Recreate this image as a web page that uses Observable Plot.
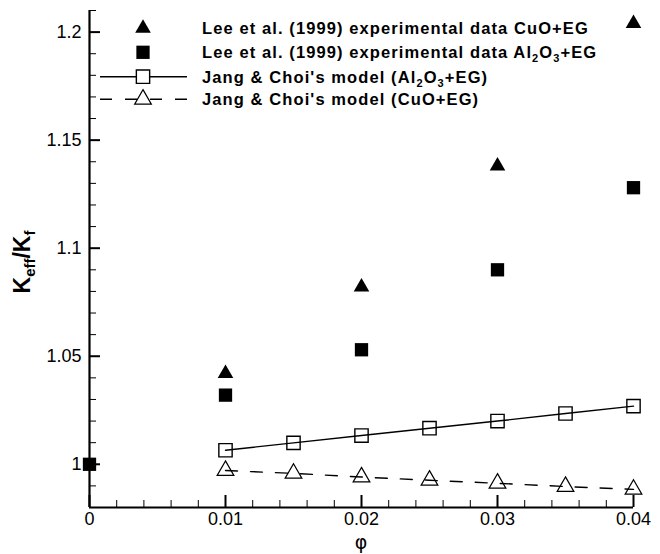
<!DOCTYPE html>
<html><head><meta charset="utf-8">
<script src="https://cdn.jsdelivr.net/npm/d3@7"></script>
<script src="https://cdn.jsdelivr.net/npm/@observablehq/plot@0.6"></script>
<style>body{margin:0;background:#fff}#chart{width:660px;height:554px}</style>
</head><body><div id="chart"></div>
<script>
// ---- data ----
const phiOrigin = [0];
const originValue = [1.0];
const phiLee = [0.01, 0.02, 0.03, 0.04];
const leeCuO = [1.042, 1.082, 1.138, 1.204];
const leeAl2O3 = [1.032, 1.053, 1.090, 1.128];
const phiModel = [0.01, 0.015, 0.02, 0.025, 0.03, 0.035, 0.04];
const jangAl2O3 = [1.0065, 1.0099, 1.0133, 1.0167, 1.0200, 1.0235, 1.0269];
const jangCuO = [0.9971, 0.9958, 0.9941, 0.9926, 0.9912, 0.9897, 0.9884];
const xTicks = [0, 0.01, 0.02, 0.03, 0.04];
const xTickLabels = ["0", "0.01", "0.02", "0.03", "0.04"];
const yTicks = [1, 1.05, 1.1, 1.15, 1.2];
const yTickLabels = ["1", "1.05", "1.1", "1.15", "1.2"];
const xDomain = [0, 0.04];
const yDomain = [0.98, 1.21];
const legendLabels = [
  "Lee et al. (1999) experimental data CuO+EG",
  "Lee et al. (1999) experimental data Al2O3+EG",
  "Jang & Choi's model (Al2O3+EG)",
  "Jang & Choi's model (CuO+EG)"
];

// tables built from the arrays
const lee = phiLee.map((p, i) => ({phi: p, cuo: leeCuO[i], al: leeAl2O3[i]}));
const origin = phiOrigin.map((p, i) => ({phi: p, v: originValue[i]}));
const model = phiModel.map((p, i) => ({phi: p, al: jangAl2O3[i], cuo: jangCuO[i]}));
const xMinor = d3.range(0, 41, 2).map(k => k / 1000).filter(v => !xTicks.some(t => Math.abs(t - v) < 1e-9));
const yMinor = d3.range(98, 122).map(k => k / 100).filter(v => !yTicks.some(t => Math.abs(t - v) < 1e-9));

const W = 660, H = 554, ML = 89, MR = 27, MT = 10, MB = 47;
const FW = W - ML - MR, FH = H - MT - MB;
const rTri = 5.8, rSq = 7.5, rOpenTri = 6.2;
const DASH = "12,13";
const FONT = "'Liberation Sans', Arial, sans-serif";
const TICK = "black";

const plot = Plot.plot({
  width: W, height: H,
  marginLeft: ML, marginRight: MR, marginTop: MT, marginBottom: MB,
  style: {fontFamily: FONT, fontSize: "18px", color: "black", background: "white", overflow: "visible"},
  x: {domain: xDomain},
  y: {domain: yDomain},
  marks: [
    Plot.axisX({ticks: xTicks, tickSize: 0, tickPadding: 5,
      tickFormat: d => xTickLabels[xTicks.indexOf(d)], label: null}),
    Plot.axisY({ticks: yTicks, tickSize: 0, tickPadding: 8,
      tickFormat: d => yTickLabels[yTicks.indexOf(d)], label: null}),
    // inward ticks as short rules anchored to the frame edges
    Plot.ruleX(xMinor, {x: d => d, insetTop: FH - 7, stroke: TICK, strokeWidth: 1}),
    Plot.ruleX(xTicks, {x: d => d, insetTop: FH - 12, stroke: TICK, strokeWidth: 2}),
    Plot.ruleY(yMinor, {y: d => d, insetRight: FW - 7, stroke: TICK, strokeWidth: 1}),
    Plot.ruleY(yTicks, {y: d => d, insetRight: FW - 11, stroke: TICK, strokeWidth: 2}),
    Plot.ruleX([xDomain[0]], {strokeWidth: 2.2}),
    Plot.ruleY([yDomain[0]], {strokeWidth: 2.2}),
    Plot.line(model, {x: "phi", y: "al", stroke: "black", strokeWidth: 1.4}),
    Plot.line(model, {x: "phi", y: "cuo", stroke: "black", strokeWidth: 1.4, strokeDasharray: DASH}),
    Plot.dot(model, {x: "phi", y: "al", symbol: "square", r: rSq, fill: "white", fillOpacity: 0, stroke: "black", strokeWidth: 1.4}),
    Plot.dot(model, {x: "phi", y: "cuo", symbol: "triangle", r: rOpenTri, fill: "white", fillOpacity: 0, stroke: "black", strokeWidth: 1.2}),
    Plot.dot(lee, {x: "phi", y: "cuo", symbol: "triangle", r: rTri, fill: "black"}),
    Plot.dot(lee, {x: "phi", y: "al", symbol: "square", r: rSq, fill: "black"}),
    Plot.dot(origin, {x: "phi", y: "v", symbol: "square", r: rSq, fill: "black"})
  ]
});
document.getElementById("chart").appendChild(plot);

const svg = d3.select(plot);
const yl = svg.append("text")
  .attr("transform", "translate(30,262) rotate(-90)")
  .attr("text-anchor", "middle")
  .style("font-family", FONT)
  .style("font-weight", "bold").style("font-size", "23px");
yl.append("tspan").text("K");
yl.append("tspan").attr("dy", 5).style("font-size", "15px").text("eff");
yl.append("tspan").attr("dy", -5).text("/K");
yl.append("tspan").attr("dy", 5).style("font-size", "15px").text("f");

svg.append("text").attr("x", 361).attr("y", 549).attr("text-anchor", "middle")
  .style("font-family", "'DejaVu Sans', sans-serif").style("font-size", "19px").text("φ");

const sym = (type, r) => d3.symbol(type, Math.PI * r * r)();
const lg = svg.append("g");
const rowsY = [28.3, 52.3, 76.7, 99.3];
const mx = 143, tx = 202;
lg.append("line").attr("x1", 100).attr("x2", 187).attr("y1", rowsY[2]).attr("y2", rowsY[2]).attr("stroke", "black").attr("stroke-width", 1.4);
lg.append("line").attr("x1", 100).attr("x2", 187).attr("y1", rowsY[3]).attr("y2", rowsY[3]).attr("stroke", "black").attr("stroke-width", 1.4).attr("stroke-dasharray", DASH);
lg.append("path").attr("d", sym(d3.symbolTriangle, rTri)).attr("transform", `translate(${mx},${rowsY[0]})`).attr("fill", "black");
lg.append("path").attr("d", sym(d3.symbolSquare, rSq)).attr("transform", `translate(${mx},${rowsY[1]})`).attr("fill", "black");
lg.append("path").attr("d", sym(d3.symbolSquare, rSq)).attr("transform", `translate(${mx},${rowsY[2]})`).attr("fill", "white").attr("stroke", "black").attr("stroke-width", 1.4);
lg.append("path").attr("d", sym(d3.symbolTriangle, rOpenTri)).attr("transform", `translate(${mx},${rowsY[3]})`).attr("fill", "white").attr("stroke", "black").attr("stroke-width", 1.2);

legendLabels.forEach((lab, i) => {
  const t = lg.append("text").attr("x", tx).attr("y", rowsY[i] + 6)
    .attr("text-anchor", "start")
    .style("font-family", FONT)
    .style("font-weight", "bold").style("font-size", "16.5px").style("letter-spacing", "1.1px");
  const runs = [];
  lab.split(/(Al2O3)/).forEach(p => {
    if (p === "Al2O3") runs.push(["Al", false], ["2", true], ["O", false], ["3", true]);
    else if (p) runs.push([p, false]);
  });
  let sub = false;
  runs.forEach(([s, isSub]) => {
    const ts = t.append("tspan").text(s);
    if (isSub) ts.style("font-size", "11px");
    if (isSub && !sub) ts.attr("dy", 4);
    else if (!isSub && sub) ts.attr("dy", -4);
    sub = isSub;
  });
});
</script>
</body></html>
